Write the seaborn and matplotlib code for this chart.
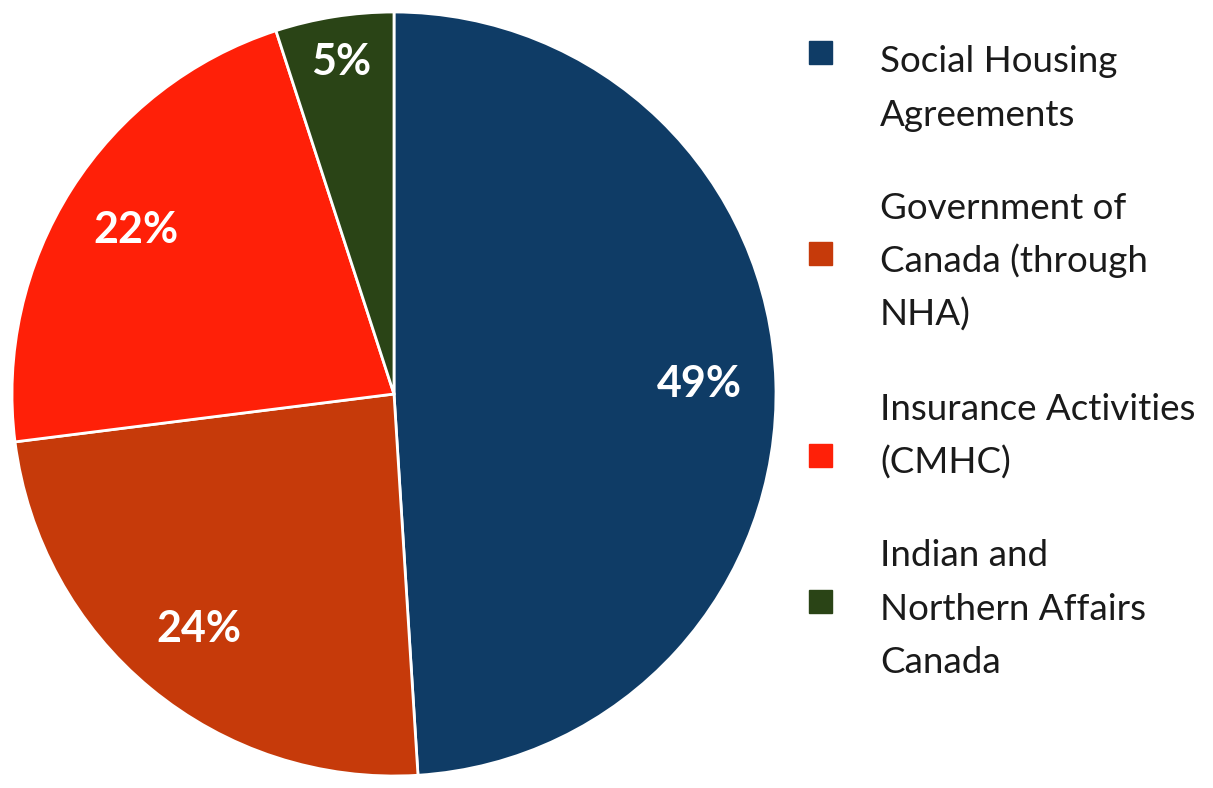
import matplotlib
matplotlib.use("Agg")
import matplotlib.pyplot as plt
import seaborn as sns

# Data
categories = ["Social Housing\nAgreements",
              "Government of\nCanada (through\nNHA)",
              "Insurance Activities\n(CMHC)",
              "Indian and\nNorthern Affairs\nCanada"]
shares = [49, 24, 22, 5]
colors = ["#0f3c66", "#c63a0a", "#ff2008", "#2a4416"]

sns.set_style("white")
plt.rcParams['font.family'] = ['Lato', 'DejaVu Sans']

fig = plt.figure(figsize=(12.13, 7.88), dpi=100)

# Pie
ax = fig.add_axes([0, 0, 788 / 1213, 1])
wedges, texts, autotexts = ax.pie(
    shares, colors=colors, startangle=90, counterclock=False,
    autopct="%d%%", pctdistance=0.8,
    wedgeprops=dict(edgecolor="white", linewidth=2),
    textprops=dict(color="white", fontsize=31, fontweight="bold"))
autotexts[3].set_position((autotexts[3].get_position()[0] * 1.1,
                           autotexts[3].get_position()[1] * 1.1))
lim = 394 / 382
ax.set_xlim(-lim, lim)
ax.set_ylim(-lim, lim)
ax.set_aspect("equal")
ax.axis("off")

# Legend drawn in pixel coordinates
lg = fig.add_axes([0, 0, 1, 1])
lg.set_xlim(0, 1213)
lg.set_ylim(788, 0)
lg.axis("off")
lg.patch.set_alpha(0)

first_baseline = [72, 219, 420, 566]
square_y = [52, 253, 455, 601]
step = 53.5
for lab, col, y0, sy in zip(categories, colors, first_baseline, square_y):
    lg.add_patch(plt.Rectangle((809, sy - 11.5), 23, 23, color=col))
    for i, line in enumerate(lab.split("\n")):
        lg.text(880, y0 + i * step, line, fontsize=26.5, fontweight="normal",
                color="#1a1a1a", va="baseline", ha="left")

plt.savefig("out.png", dpi=100)
